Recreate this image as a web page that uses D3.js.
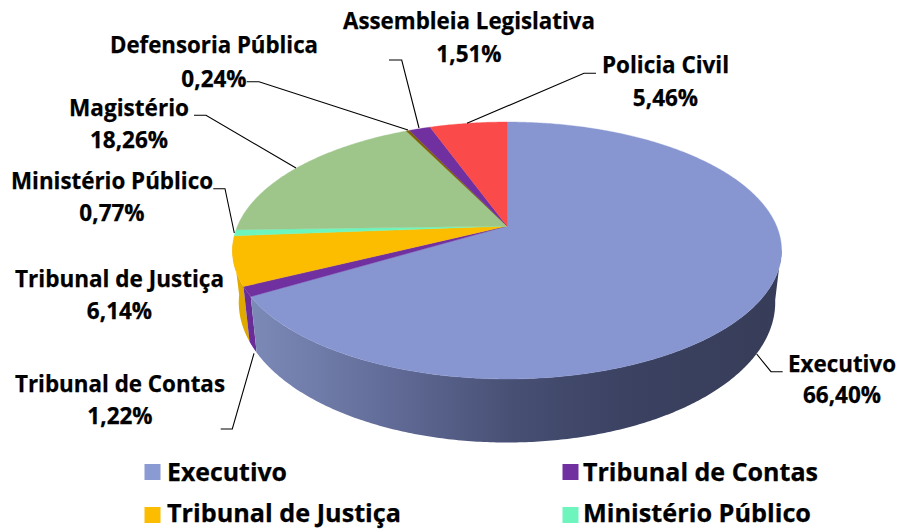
<!DOCTYPE html>
<html><head><meta charset="utf-8">
<script src="https://cdn.jsdelivr.net/npm/d3@7"></script>
<style>html,body{margin:0;padding:0;background:#fff;overflow:hidden}svg{display:block}text{font-family:"Open Sans",sans-serif;font-weight:700;fill:#000;stroke:#000;stroke-width:0.25}</style>
</head><body><div id="c"></div>
<script>
// data
const categories = ["Executivo","Tribunal de Contas","Tribunal de Justiça","Ministério Público","Magistério","Defensoria Pública","Assembleia Legislativa","Policia Civil"];
const values = [66.40,1.22,6.14,0.77,18.26,0.24,1.51,5.46];
const valueLabels = ["66,40%","1,22%","6,14%","0,77%","18,26%","0,24%","1,51%","5,46%"];
const topColors = ["#8796d0","#7030a0","#fcbc00","#6df5bd","#9fc68a","#7f6000","#7030a0","#fb4a4a"];
const wallColors = ["url(#wall)","#6a2d98","#dfa900","#6df5bd","#9fc68a","#7f6000","#7030a0","#fb4a4a"];
const legendItems = ["Executivo","Tribunal de Contas","Tribunal de Justiça","Ministério Público"];

// layout
const W=898,H=529;
const cx=507;
const topPlane={y0:226,a:269.5,k:123.8,p:0.1907};
const botPlane={y0:275.7,a:263.3,k:135,p:0.1907};
const wallStart=100*Math.PI/180, wallEnd=262*Math.PI/180;
const labelLayout=[
 {x:842,y1:371.7,y2:403,w:108,leader:[[782.7,371.7],[771,371.7],[756.7,354]]},
 {x:120,y1:392.3,y2:424.3,w:210,leader:[[220.7,429],[232.3,429],[254,353.3]]},
 {x:119.5,y1:286.7,y2:319.3,w:209,leader:null},
 {x:112,y1:188.7,y2:221,w:202,leader:[[213.3,188.7],[225,188.7],[234.3,233]]},
 {x:129,y1:116,y2:148.3,w:120,leader:[[194,115.3],[206,115.3],[296,168]]},
 {x:214,y1:53.3,y2:86.7,w:208,leader:[[246.7,81.7],[259,81.7],[408,130]]},
 {x:469,y1:29,y2:61.7,w:252,leader:[[389,60],[401.7,60],[419,128]]},
 {x:665.5,y1:73.3,y2:106,w:127,leader:[[596,73.3],[584,73.3],[467,123.3]]}
];
const legendLayout=[
 {x:144.5,y:464,tx:167,by:480.7,w:120},
 {x:562.5,y:464,tx:583,by:480.7,w:235},
 {x:144.5,y:507,tx:167,by:522,w:234},
 {x:562.5,y:507,tx:583,by:522,w:228}
];

const svg=d3.select("#c").append("svg").attr("width",W).attr("height",H);
const grad=svg.append("defs").append("linearGradient").attr("id","wall")
  .attr("gradientUnits","userSpaceOnUse").attr("x1",250).attr("x2",781).attr("y1",0).attr("y2",0);
[[0,"#7c8ab8"],[0.25,"#636d99"],[0.5,"#474f73"],[0.7,"#3b4262"],[1,"#373d58"]].forEach(s=>grad.append("stop").attr("offset",s[0]).attr("stop-color",s[1]));

function project(t,pl){
  const u=Math.sin(t),v=Math.cos(t),d=1+pl.p*v;
  return [cx+pl.a*u/d, pl.y0-pl.k*v/d];
}
const line=d3.line();
const samples=(a,b)=>{const n=Math.max(2,Math.ceil((b-a)/0.01));return d3.range(n+1).map(i=>a+(b-a)*i/n);};
const arcs=d3.pie().sort(null).value(d=>d)(values);

// side walls (far side first so the blue one lies on top)
const wallOrder=[2,1,0];
wallOrder.forEach(i=>{
  const a=Math.max(arcs[i].startAngle,wallStart),b=Math.min(arcs[i].endAngle,wallEnd);
  if(b<=a)return;
  const ts=samples(a,b);
  const pts=ts.map(t=>project(t,topPlane)).concat(ts.slice().reverse().map(t=>project(t,botPlane)));
  svg.append("path").attr("d",line(pts)+"Z").attr("fill",wallColors[i]);
});

// top face
arcs.forEach((s,i)=>{
  const pts=[[cx,topPlane.y0]].concat(samples(s.startAngle,s.endAngle).map(t=>project(t,topPlane)));
  svg.append("path").attr("d",line(pts)+"Z").attr("fill",topColors[i]).attr("stroke",topColors[i]).attr("stroke-width",0.4);
});

// leaders and labels
labelLayout.forEach((l,i)=>{
  if(l.leader) svg.append("path").attr("d",line(l.leader)).attr("fill","none").attr("stroke","#000").attr("stroke-width",1.1);
  svg.append("text").attr("x",l.x).attr("y",l.y1).attr("text-anchor","middle").attr("font-size",22.5)
    .attr("textLength",l.w).attr("lengthAdjust","spacingAndGlyphs").text(categories[i]);
  svg.append("text").attr("x",l.x).attr("y",l.y2).attr("text-anchor","middle").attr("font-size",22.5).text(valueLabels[i]);
});

// legend
legendItems.forEach((name,i)=>{
  const l=legendLayout[i], idx=categories.indexOf(name);
  svg.append("rect").attr("x",l.x).attr("y",l.y).attr("width",16).attr("height",16)
    .attr("fill",idx===0?"#8a9ad3":topColors[idx]);
  svg.append("text").attr("x",l.tx).attr("y",l.by).attr("font-size",25)
    .attr("textLength",l.w).attr("lengthAdjust","spacingAndGlyphs").text(name);
});
</script></body></html>
